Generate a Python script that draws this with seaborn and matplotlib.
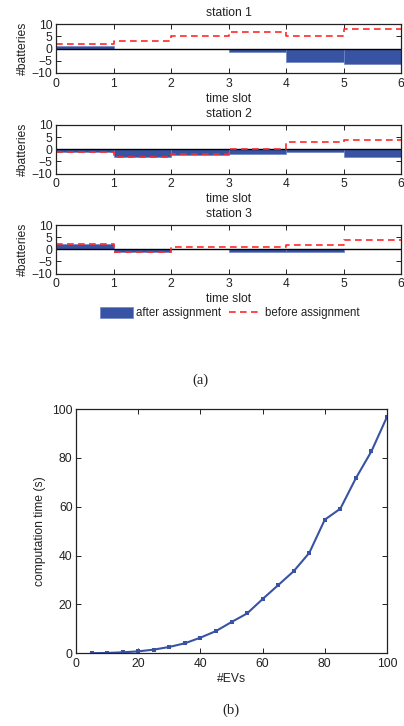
import numpy as np
import pandas as pd
import seaborn as sns
import matplotlib.pyplot as plt
from matplotlib.patches import Patch
from matplotlib.lines import Line2D

# battery balance per time slot (slots 0..5)
slots = [0, 1, 2, 3, 4, 5]
after_s1 = [1, 0, 0, -1.2, -5.4, -6.4]
before_s1 = [2, 3, 5, 7, 5, 8]
after_s2 = [-1.1, -3.2, -2.2, -2, -1.2, -3.2]
before_s2 = [-1, -3, -2, 0, 3, 4]
after_s3 = [2.2, -1.3, 0, -1.2, -1.2, 0]
before_s3 = [2, -1.3, 0.8, 0.8, 1.9, 4]
stations = ["station 1", "station 2", "station 3"]

# computation time vs number of EVs
n_evs = [5, 10, 15, 20, 25, 30, 35, 40, 45, 50, 55, 60, 65, 70, 75, 80, 85, 90, 95, 100]
comp_time = [0.05, 0.15, 0.4, 0.8, 1.5, 2.6, 4.1, 6.4, 9.1, 12.8, 16.3, 22.2,
             27.9, 33.6, 41.1, 54.7, 59.2, 71.7, 82.7, 96.8]

blue = "#3953a4"
red = "#ff2a2a"

sns.set_theme(style="ticks")
plt.rcParams['font.family'] = ['Liberation Sans', 'DejaVu Sans']
plt.rcParams.update({
    'font.size': 8.7,
    'axes.linewidth': 0.9,
    'axes.edgecolor': '#222222',
    'xtick.direction': 'in',
    'ytick.direction': 'in',
    'xtick.top': True,
    'ytick.right': True,
    'xtick.major.size': 3.5,
    'ytick.major.size': 3.5,
    'xtick.major.width': 0.7,
    'ytick.major.width': 0.7,
    'xtick.major.pad': 3.5,
    'ytick.major.pad': 2.5,
    'xtick.labelsize': 8.7,
    'ytick.labelsize': 8.7,
    'axes.labelsize': 8.7,
    'axes.titlesize': 8.7,
    'text.color': '#222222',
    'axes.labelcolor': '#222222',
    'xtick.color': '#222222',
    'ytick.color': '#222222',
})

W, H = 404, 726
fig = plt.figure(figsize=(W / 100, H / 100), dpi=100)


def px_axes(left, top, right, bottom):
    return fig.add_axes([left / W, 1 - bottom / H, (right - left) / W, (bottom - top) / H])


tops = [24.3, 125, 225]
afters = [after_s1, after_s2, after_s3]
befores = [before_s1, before_s2, before_s3]

for top, name, aft, bef in zip(tops, stations, afters, befores):
    ax = px_axes(56, top, 401, top + 48.6)
    ax.bar(slots, aft, width=1, align='edge', color=blue,
           edgecolor='#6f86c4', linewidth=0.5)
    ax.axhline(0, color='black', lw=1)
    step_df = pd.DataFrame({'slot': slots + [slots[-1] + 1], 'n': bef + [bef[-1]]})
    sns.lineplot(data=step_df, x='slot', y='n', ax=ax, color=red, lw=1.2,
                 drawstyle='steps-post', linestyle=(0, (4, 2.6)))
    ax.set_xlim(0, 6)
    ax.set_ylim(-10, 10)
    ax.set_yticks([-10, -5, 0, 5, 10])
    ax.set_xticks(range(7))
    ax.set_title(name, pad=6)
    ax.set_xlabel('time slot', labelpad=2)
    ax.set_ylabel('#batteries', labelpad=2)

handles = [Patch(facecolor=blue, edgecolor='#6f86c4', linewidth=0.5),
           Line2D([], [], color=red, lw=1.2, linestyle=(0, (4, 2.6)))]
fig.legend(handles, ['after assignment', 'before assignment'], ncol=2,
           loc='center', bbox_to_anchor=(230 / W, 1 - 313 / H), frameon=False,
           fontsize=8.3, handlelength=2.85, handleheight=1.1, handletextpad=0.25,
           columnspacing=0.7)

fig.text(200 / W, 1 - 380 / H, '(a)', ha='center', va='center',
         family='Liberation Serif', fontsize=10.5)

# computation time plot
ax = px_axes(76, 409, 387, 653.3)
ct_df = pd.DataFrame({'evs': n_evs, 't': comp_time})
sns.lineplot(data=ct_df, x='evs', y='t', ax=ax, color=blue, lw=1.5,
             marker='s', markersize=3.5, markeredgewidth=0)
ax.set_xlim(0, 100)
ax.set_ylim(0, 100)
ax.set_xticks(range(0, 101, 20))
ax.set_yticks(range(0, 101, 20))
ax.set_xlabel('#EVs', labelpad=2)
ax.set_ylabel('computation time (s)', labelpad=4)

fig.text(231 / W, 1 - 710 / H, '(b)', ha='center', va='center',
         family='Liberation Serif', fontsize=10.5)

fig.savefig('out.png', dpi=100)
